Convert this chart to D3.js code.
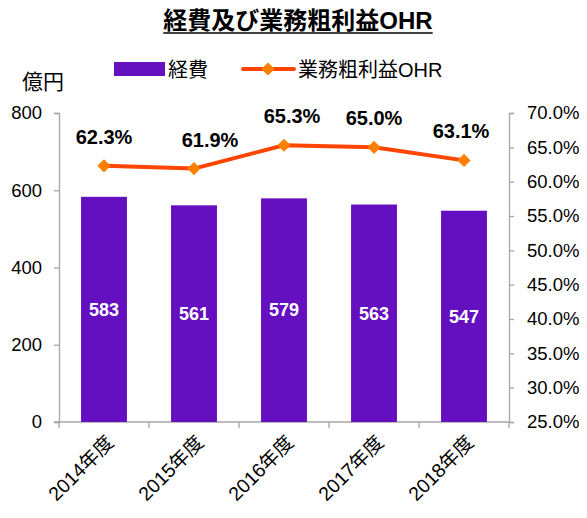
<!DOCTYPE html>
<html>
<head>
<meta charset="utf-8">
<script src="https://cdn.jsdelivr.net/npm/d3@7"></script>
<style>
  body { margin: 0; background: #fff; }
  text { font-family: "Liberation Sans", Arial, "Noto Sans CJK JP", sans-serif; }
</style>
</head>
<body>
<div id="chart"></div>
<script>
// data
const years = ["2014年度", "2015年度", "2016年度", "2017年度", "2018年度"];
const expenses = [583, 561, 579, 563, 547];
const ohr = [62.3, 61.9, 65.3, 65.0, 63.1];
const leftTicks = [0, 200, 400, 600, 800];
const rightTicks = [25, 30, 35, 40, 45, 50, 55, 60, 65, 70];

// small nudges for the OHR labels, as the original places them
const labelDx = [0, 16, 8, 0, -3];

const W = 587, H = 518;
const margin = { top: 113, right: 78, bottom: 96, left: 59 };
const width = W - margin.left - margin.right,
    height = H - margin.top - margin.bottom;

const barColor = "#6410C0", lineColor = "#FF4500", markColor = "#FF7F00";
const axisColor = "#A6A6A6";
const jp = '"Liberation Sans", Arial, "Noto Sans CJK JP", sans-serif';

const svg = d3.select("#chart").append("svg")
    .attr("width", W).attr("height", H);

// title
const title = svg.append("text")
    .attr("x", 298).attr("y", 29)
    .attr("text-anchor", "middle")
    .style("font-size", "24px").style("font-weight", "bold")
    .text("経費及び業務粗利益OHR");
const tb = title.node().getBBox();
svg.append("line")
    .attr("x1", tb.x).attr("x2", tb.x + tb.width)
    .attr("y1", 33).attr("y2", 33)
    .attr("stroke", "#000").attr("stroke-width", 1.5);

// legend
svg.append("rect").attr("x", 114).attr("y", 62).attr("width", 51).attr("height", 14).attr("fill", barColor);
svg.append("text").attr("x", 168).attr("y", 77).style("font-size", "20px").text("経費");
svg.append("line").attr("x1", 243).attr("x2", 294).attr("y1", 69).attr("y2", 69)
    .attr("stroke", lineColor).attr("stroke-width", 4).attr("stroke-linecap", "round");
svg.append("path").attr("d", d3.symbol(d3.symbolDiamond2, 110)())
    .attr("transform", "translate(268,69)").attr("fill", markColor);
svg.append("text").attr("x", 298).attr("y", 77).style("font-size", "20px").text("業務粗利益OHR");

// unit label
svg.append("text").attr("x", 22).attr("y", 89).style("font-size", "21px").text("億円");

const g = svg.append("g").attr("transform", `translate(${margin.left},${margin.top})`);

const x = d3.scaleBand().domain(years).range([0, width]).paddingInner(0.49).paddingOuter(0.245);
const xTick = d3.scalePoint().domain(d3.range(years.length + 1)).range([0, width]);
const y = d3.scaleLinear().domain([0, 800]).range([height, 0]);
const y2 = d3.scaleLinear().domain([25, 70]).range([height, 0]);

// left axis
const yAxis = g.append("g")
    .call(d3.axisLeft(y).tickValues(leftTicks).tickSize(5).tickPadding(12));
// right axis
const y2Axis = g.append("g").attr("transform", `translate(${width},0)`)
    .call(d3.axisRight(y2).tickValues(rightTicks).tickSize(5).tickPadding(13)
        .tickFormat(d => d.toFixed(1) + "%"));
// x axis line + ticks between categories
const xAxis = g.append("g").attr("transform", `translate(0,${height})`);
xAxis.append("line").attr("x1", -5).attr("x2", width).attr("stroke", axisColor).attr("stroke-width", 1.3);
xAxis.selectAll(".tk").data(d3.range(years.length + 1)).join("line")
    .attr("x1", d => xTick(d)).attr("x2", d => xTick(d))
    .attr("y1", 0).attr("y2", 6).attr("stroke", axisColor).attr("stroke-width", 1.3);

[yAxis, y2Axis].forEach(a => {
    a.select(".domain").attr("stroke", axisColor).attr("stroke-width", 1.3);
    a.selectAll(".tick line").attr("stroke", axisColor).attr("stroke-width", 1.3);
    a.selectAll(".tick text").style("font-size", "18.5px").style("font-family", jp).attr("fill", "#000");
});

// x labels rotated
xAxis.selectAll(".xl").data(years).join("text")
    .attr("transform", d => `translate(${x(d) + x.bandwidth() / 2 + 6},${17}) rotate(-45)`)
    .attr("text-anchor", "end")
    .attr("dy", "0.35em")
    .style("font-size", "19.5px")
    .text(d => d);

// bars
g.selectAll(".bar").data(expenses).join("rect")
    .attr("x", (d, i) => x(years[i]))
    .attr("y", d => y(d))
    .attr("width", x.bandwidth())
    .attr("height", d => height - y(d))
    .attr("fill", barColor);

g.selectAll(".blab").data(expenses).join("text")
    .attr("x", (d, i) => x(years[i]) + x.bandwidth() / 2)
    .attr("y", d => (y(d) + height) / 2)
    .attr("dy", "0.35em")
    .attr("text-anchor", "middle")
    .attr("fill", "#fff")
    .style("font-size", "18px").style("font-weight", "bold")
    .text(d => d);

// line
const cx = i => x(years[i]) + x.bandwidth() / 2;
g.append("path").datum(ohr)
    .attr("fill", "none").attr("stroke", lineColor).attr("stroke-width", 4)
    .attr("stroke-linejoin", "round")
    .attr("d", d3.line().x((d, i) => cx(i)).y(d => y2(d)));

g.selectAll(".mk").data(ohr).join("path")
    .attr("d", d3.symbol(d3.symbolDiamond2, 110)())
    .attr("transform", (d, i) => `translate(${cx(i)},${y2(d)})`)
    .attr("fill", markColor);

g.selectAll(".llab").data(ohr).join("text")
    .attr("x", (d, i) => cx(i) + labelDx[i])
    .attr("y", d => y2(d) - 22)
    .attr("text-anchor", "middle")
    .style("font-size", "20px").style("font-weight", "bold")
    .text(d => d.toFixed(1) + "%");
</script>
</body>
</html>
